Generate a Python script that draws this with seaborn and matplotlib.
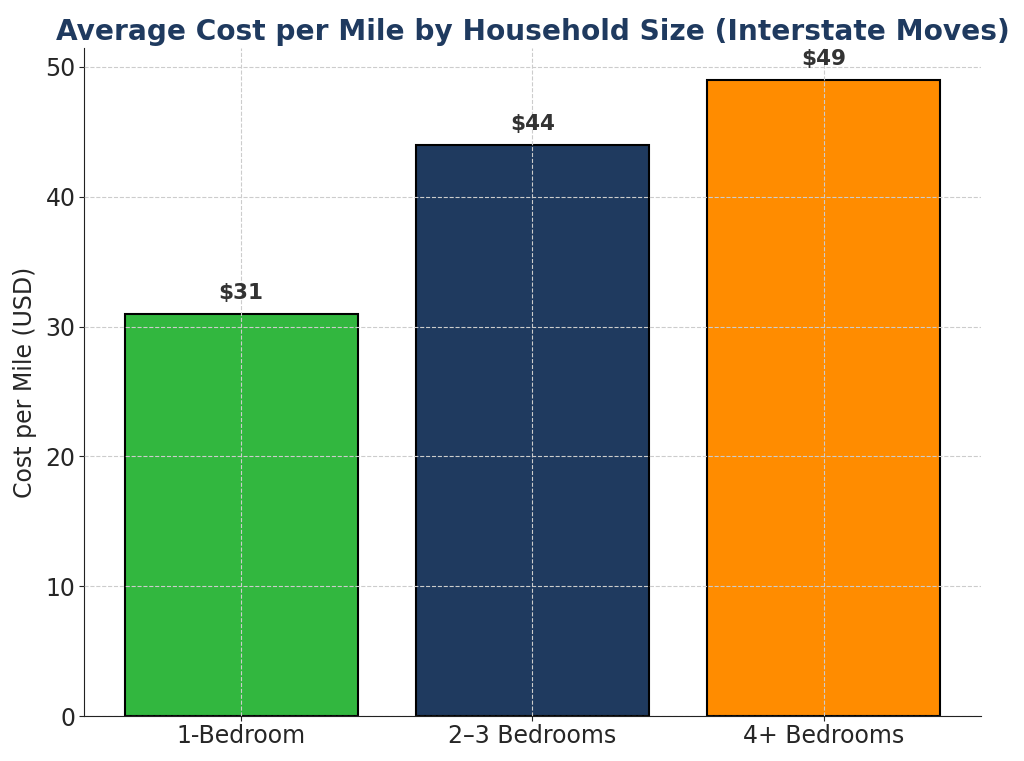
import pandas as pd
import matplotlib.pyplot as plt
import seaborn as sns

categories = ["1-Bedroom", "2–3 Bedrooms", "4+ Bedrooms"]
cost_per_mile = [31, 44, 49]
bar_colors = ["#32b73f", "#1f3a5f", "#ff8c00"]

df = pd.DataFrame({"size": categories, "cost": cost_per_mile})

sns.set_style("white")
plt.rcParams["font.family"] = ["DejaVu Sans"]

fig, ax = plt.subplots(figsize=(10.24, 7.61), dpi=100)
sns.barplot(data=df, x="size", y="cost", hue="size", palette=bar_colors,
            saturation=1, edgecolor="black", linewidth=1.5, width=0.8,
            legend=False, ax=ax)

for i, v in enumerate(cost_per_mile):
    ax.text(i, v + 0.8, f"${v}", ha="center", va="bottom",
            fontsize=15.5, fontweight="bold", color="#333333")

ax.set_xlim(-0.54, 2.54)
ax.set_ylim(0, 51.45)
ax.set_axisbelow(False)
ax.grid(True, linestyle="--", color="#cccccc", linewidth=0.8)
for s in ["top", "right"]:
    ax.spines[s].set_visible(False)
ax.spines["left"].set_color("#222222")
ax.spines["bottom"].set_color("#222222")
ax.tick_params(axis="both", labelsize=17, length=3.5, pad=2.5,
               color="#222222", left=True, bottom=True)

ax.set_title("Average Cost per Mile by Household Size (Interstate Moves)",
             fontsize=20.2, fontweight="bold", color="#1f3a5f", pad=6)
ax.set_xlabel("")
ax.set_ylabel("Cost per Mile (USD)", fontsize=17, labelpad=6)

plt.subplots_adjust(left=0.082, right=0.958, top=0.937, bottom=0.059)
plt.savefig("out.png", dpi=100)
